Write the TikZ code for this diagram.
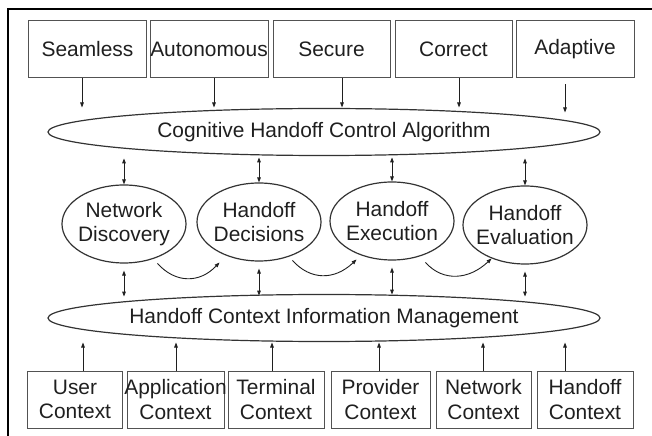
\documentclass[tikz,border=0pt]{standalone}
\usepackage{fontspec}
\setmainfont{Liberation Sans}
\usetikzlibrary{arrows.meta,shapes.geometric}
\begin{document}
\begin{tikzpicture}[x=1bp,y=-1bp,
  every node/.style={font=\fontsize{21}{24.5}\selectfont, text=black!88},
  box/.style={draw=black!68, line width=1bp, minimum height=57bp, inner sep=-5bp, align=center},
  ell/.style={ellipse, draw=black!80, line width=1.2bp, inner sep=-9bp, minimum width=124bp, minimum height=78bp, align=center},
  big/.style={ellipse, draw=black!80, line width=1.2bp, inner sep=-6bp, minimum width=552bp, minimum height=47bp},
  tip/.tip={Triangle[length=5bp,width=3.6bp]},
  arr/.style={-tip, line width=0.9bp, draw=black!88},
  darr/.style={tip-tip, line width=0.9bp, draw=black!88},
  frame/.style={line width=2bp, draw=black}]
\useasboundingbox (0,0) rectangle (652,436);
\draw[frame] (652,9) -- (7.5,9) -- (7.5,436);

% top boxes
\node[box, minimum width=117bp] (t1) at (87.5,49.5) {Seamless};
\node[box, minimum width=118bp] (t2) at (209,49.5) {Autonomous};
\node[box, minimum width=117bp] (t3) at (331.5,49.5) {Secure};
\node[box, minimum width=117bp] (t4) at (453.5,49.5) {Correct};
\node[box, minimum width=118bp] (t5) at (575,49.5) {Adaptive};

% ellipses
\node[big] (cha) at (324,132) {Cognitive Handoff Control Algorithm};
\node[ell] (nd) at (124,224) {Network\\Discovery};
\node[ell] (hd) at (259,222) {Handoff\\Decisions};
\node[ell] (he) at (392,221) {Handoff\\Execution};
\node[ell] (hv) at (525,225) {Handoff\\Evaluation};
\node[big] (him) at (324,318) {Handoff Context Information Management};

% bottom boxes
\node[box, minimum width=94bp] (b1) at (75,399.5) {User\\Context};
\node[box, minimum width=97bp] (b2) at (175.5,399.5) {Application\\Context};
\node[box, minimum width=96bp] (b3) at (276,399.5) {Terminal\\Context};
\node[box, minimum width=99bp] (b4) at (380.5,399.5) {Provider\\Context};
\node[box, minimum width=95bp] (b5) at (483.5,399.5) {Network\\Context};
\node[box, minimum width=96bp] (b6) at (585,399.5) {Handoff\\Context};

% top arrows
\draw[arr] ([xshift=-5.5bp]t1.south) -- ++(0,29);
\draw[arr] ([xshift=5bp]t2.south) -- ++(0,29);
\draw[arr] ([xshift=10.5bp]t3.south) -- ++(0,29);
\draw[arr] ([xshift=5.5bp]t4.south) -- ++(0,29);
\draw[arr] ([xshift=-10bp,yshift=-6bp]t5.south) -- ++(0,28);

% upper double arrows
\draw[darr] (nd.north) -- ++(0,-26);
\draw[darr] (hd.north) -- ++(0,-25);
\draw[darr] (he.north) -- ++(0,-24);
\draw[darr] (hv.north) -- ++(0,-27);

% lower double arrows
\draw[darr] ([yshift=-7bp]nd.south) -- ++(0,26);
\draw[darr] ([yshift=-7bp]hd.south) -- ++(0,27);
\draw[darr] ([yshift=-7bp]he.south) -- ++(0,27);
\draw[darr] ([yshift=-7bp]hv.south) -- ++(0,25);

% curved arrows
\draw[arr] ([yshift=-6bp]nd.-45) .. controls +(18,20) and +(-20,21) .. ([xshift=-6bp,yshift=-7bp]hd.-135);
\draw[arr] ([yshift=-5bp]hd.-45) .. controls +(18,20) and +(-22,21) .. ([xshift=-2bp,yshift=-5bp]he.-135);
\draw[arr] ([yshift=-8bp]he.-45) .. controls +(18,20) and +(-22,21) .. (hv.-135);

% bottom arrows
\draw[arr] ([xshift=8bp]b1.north) -- ++(0,-28);
\draw[arr] ([xshift=0.5bp]b2.north) -- ++(0,-28);
\draw[arr] ([xshift=-4bp]b3.north) -- ++(0,-28);
\draw[arr] ([xshift=-1.5bp]b4.north) -- ++(0,-28);
\draw[arr] ([xshift=-0.5bp]b5.north) -- ++(0,-28);
\draw[arr] ([xshift=-20bp]b6.north) -- ++(0,-28);
\end{tikzpicture}
\end{document}
